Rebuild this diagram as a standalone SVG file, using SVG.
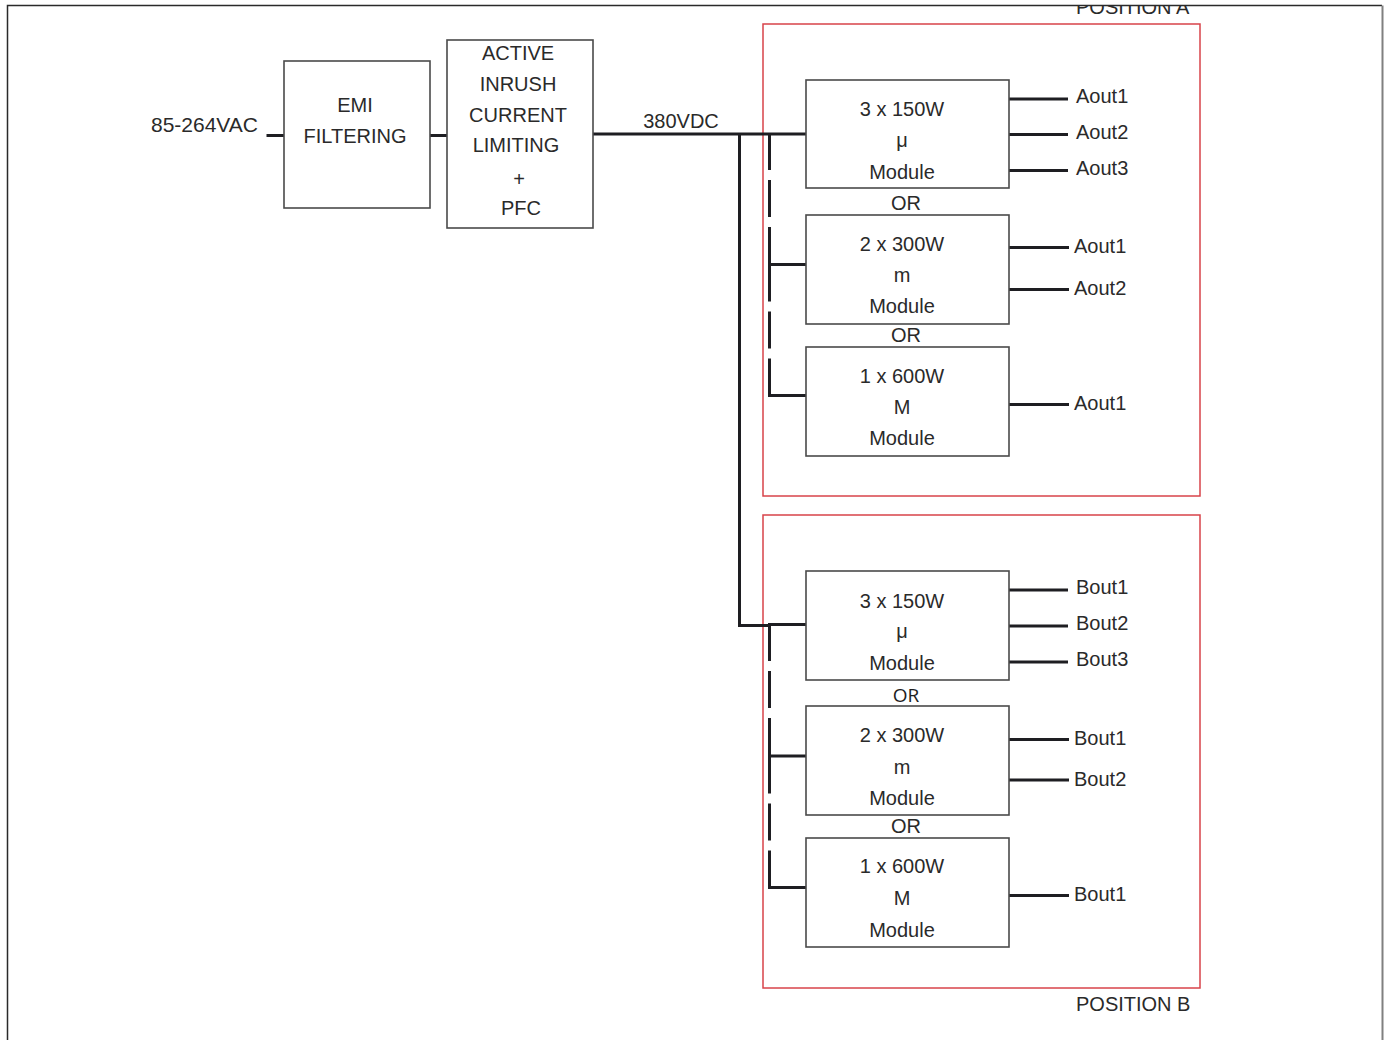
<svg xmlns="http://www.w3.org/2000/svg" width="1391" height="1040" viewBox="0 0 1391 1040">
<style>
text{font-family:"Liberation Sans",Arial,sans-serif;font-size:20px;fill:#2a2a2a}
.c{text-anchor:middle}
.box{fill:#fff;stroke:#4a4a4a;stroke-width:1.6}
.pos{fill:none;stroke:#d8434a;stroke-width:1.5}
.w{fill:none;stroke:#1e1e22;stroke-width:3}
.d{fill:none;stroke:#1e1e22;stroke-width:3;stroke-dasharray:37 10}
.or2{font-family:"Open Sans","Liberation Sans",sans-serif;font-size:19px;fill:#1e1e1e}
</style>
<defs>
<clipPath id="frameClip"><rect x="7" y="6" width="1376" height="1034"/></clipPath>
</defs>
<rect x="0" y="0" width="1391" height="1040" fill="#fff"/>

<g id="frame">
<path d="M7.5,1040 V5.5 H1382" fill="none" stroke="#2a2a2a" stroke-width="1.5"/>
<path d="M1382.5,5.5 V1040" fill="none" stroke="#808080" stroke-width="2"/>
</g>

<g id="positionA">
<rect class="pos" x="763" y="24" width="437" height="472"/>
<text x="1076" y="14" clip-path="url(#frameClip)">POSITION A</text>
</g>
<g id="positionB">
<rect class="pos" x="763" y="515" width="437" height="473"/>
<text x="1076" y="1011">POSITION B</text>
</g>

<g id="connectors">
<path class="w" d="M266.5,135.5 H284"/>
<path class="w" d="M430,135.5 H447"/>
<path class="w" d="M593,134 H806"/>
<path class="w" d="M739.5,134 V625.5 H770"/>
<path class="w" d="M768,624.5 H806"/>
<path class="d" d="M769.5,133 V264"/>
<path class="d" d="M769.5,264.5 V395.5"/>
<path class="w" d="M768,264.5 H806"/>
<path class="w" d="M768,395.5 H806"/>
<path class="d" d="M769.5,624 V756"/>
<path class="d" d="M769.5,756.5 V887.5"/>
<path class="w" d="M768,756 H806"/>
<path class="w" d="M768,887.5 H806"/>
<path class="w" d="M1009,99 H1068 M1009,134.5 H1068 M1009,170.5 H1068"/>
<path class="w" d="M1009,247.5 H1069 M1009,289.5 H1069"/>
<path class="w" d="M1009,404.5 H1069"/>
<path class="w" d="M1009,590 H1068 M1009,626 H1068 M1009,662 H1068"/>
<path class="w" d="M1009,739.5 H1069 M1009,780 H1069"/>
<path class="w" d="M1009,895.5 H1069"/>
<text x="681" y="128" class="c">380VDC</text>
</g>

<g id="input">
<text x="258" y="132" text-anchor="end" style="font-size:21px">85-264VAC</text>
</g>

<g id="emi">
<rect class="box" x="284" y="61" width="146" height="147"/>
<text x="355" y="112" class="c">EMI</text>
<text x="355" y="143" class="c">FILTERING</text>
</g>

<g id="pfc">
<rect class="box" x="447" y="40" width="146" height="188"/>
<text x="518" y="60" class="c">ACTIVE</text>
<text x="518" y="91" class="c">INRUSH</text>
<text x="518" y="122" class="c">CURRENT</text>
<text x="516" y="152" class="c">LIMITING</text>
<text x="519" y="186" class="c">+</text>
<text x="521" y="215" class="c">PFC</text>
</g>

<g id="moduleA1">
<rect class="box" x="806" y="80" width="203" height="108"/>
<text x="902" y="116" class="c">3 x 150W</text>
<text x="902" y="147" class="c">μ</text>
<text x="902" y="179" class="c">Module</text>
<text x="1076" y="103">Aout1</text>
<text x="1076" y="139">Aout2</text>
<text x="1076" y="175">Aout3</text>
</g>
<text x="906" y="210" class="c">OR</text>
<g id="moduleA2">
<rect class="box" x="806" y="215" width="203" height="109"/>
<text x="902" y="251" class="c">2 x 300W</text>
<text x="902" y="282" class="c">m</text>
<text x="902" y="313" class="c">Module</text>
<text x="1074" y="253">Aout1</text>
<text x="1074" y="295">Aout2</text>
</g>
<text x="906" y="342" class="c">OR</text>
<g id="moduleA3">
<rect class="box" x="806" y="347" width="203" height="109"/>
<text x="902" y="383" class="c">1 x 600W</text>
<text x="902" y="414" class="c">M</text>
<text x="902" y="445" class="c">Module</text>
<text x="1074" y="410">Aout1</text>
</g>

<g id="moduleB1">
<rect class="box" x="806" y="571" width="203" height="109"/>
<text x="902" y="608" class="c">3 x 150W</text>
<text x="902" y="638" class="c">μ</text>
<text x="902" y="670" class="c">Module</text>
<text x="1076" y="594">Bout1</text>
<text x="1076" y="630">Bout2</text>
<text x="1076" y="666">Bout3</text>
</g>
<text x="906" y="702" class="c or2">OR</text>
<g id="moduleB2">
<rect class="box" x="806" y="706" width="203" height="109"/>
<text x="902" y="742" class="c">2 x 300W</text>
<text x="902" y="774" class="c">m</text>
<text x="902" y="805" class="c">Module</text>
<text x="1074" y="745">Bout1</text>
<text x="1074" y="786">Bout2</text>
</g>
<text x="906" y="833" class="c">OR</text>
<g id="moduleB3">
<rect class="box" x="806" y="838" width="203" height="109"/>
<text x="902" y="873" class="c">1 x 600W</text>
<text x="902" y="905" class="c">M</text>
<text x="902" y="937" class="c">Module</text>
<text x="1074" y="901">Bout1</text>
</g>
</svg>
